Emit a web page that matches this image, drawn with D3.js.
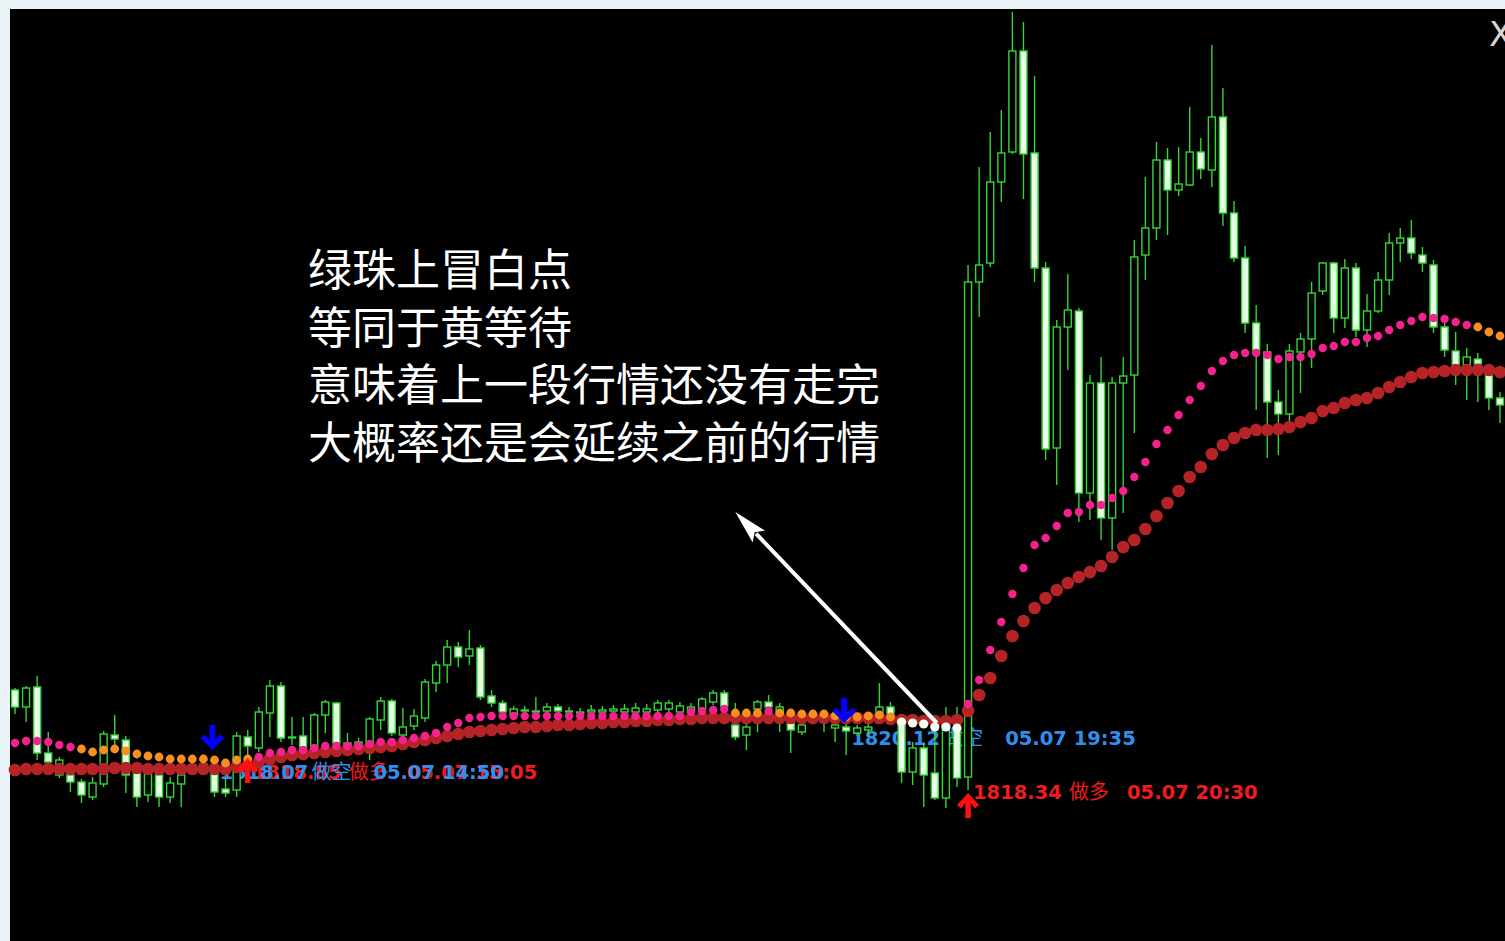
<!DOCTYPE html>
<html>
<head>
<meta charset="utf-8">
<script src="https://cdn.jsdelivr.net/npm/d3@7"></script>
<style>
html, body { margin: 0; padding: 0; background: #e9f3f8; overflow: hidden; }
</style>
</head>
<body>
<svg width="1505" height="941"></svg>
<script>
// 5 minute bars, 05.07 13:20 .. 05.08 00:30
var times = d3.timeMinute.every(5).range(new Date(2021, 4, 7, 13, 20), new Date(2021, 4, 8, 0, 35));

var open = [
1823.50,1822.65,1823.65,1820.35,1819.25,1819.25,1818.90,1818.15,1818.80,1821.25,
1821.00,1819.35,1818.25,1819.25,1818.15,1818.80,1819.60,1819.70,1819.40,1818.55,
1818.50,1821.15,1820.60,1822.35,1823.70,1821.10,1821.20,1820.65,1822.25,1822.85,
1820.85,1820.75,1820.60,1822.00,1822.95,1821.25,1821.70,1822.10,1823.85,1824.75,
1825.65,1825.20,1825.60,1823.20,1822.85,1822.25,1822.45,1822.40,1822.45,1822.65,
1822.40,1822.35,1822.40,1822.40,1822.45,1822.40,1822.40,1822.40,1822.50,1822.55,
1822.40,1822.40,1822.55,1822.90,1823.35,1821.75,1821.25,1822.55,1822.90,1822.40,
1822.25,1821.40,1822.10,1822.10,1821.60,1821.65,1821.35,1821.50,1822.25,1822.65,
1821.85,1819.40,1820.60,1819.35,1818.10,1821.65,1819.15,1843.90,1844.85,1848.90,
1850.40,1855.45,1850.35,1844.60,1835.60,1841.65,1842.45,1833.35,1838.85,1832.10,
1838.85,1839.25,1845.25,1846.60,1850.00,1848.50,1848.75,1850.40,1849.50,1852.15,
1847.35,1845.10,1841.85,1840.40,1837.90,1837.30,1840.40,1841.05,1843.45,1844.85,
1842.10,1844.60,1841.50,1842.45,1844.00,1845.85,1846.10,1845.25,1844.75,1841.65,
1840.45,1839.75,1840.05,1839.25,1838.10];

var high = [
1823.60,1823.70,1824.20,1821.40,1820.15,1819.40,1819.05,1819.15,1821.45,1822.25,
1821.20,1819.50,1819.50,1819.50,1819.15,1819.50,1820.00,1820.10,1819.75,1819.10,
1821.40,1821.50,1822.65,1824.00,1823.90,1822.15,1822.15,1822.35,1823.00,1822.90,
1821.35,1821.10,1822.15,1823.15,1823.05,1822.60,1822.55,1824.05,1824.95,1826.00,
1825.90,1826.50,1825.75,1823.50,1823.00,1822.70,1822.70,1823.15,1822.85,1822.80,
1822.65,1822.60,1822.75,1822.70,1822.75,1822.80,1822.85,1822.80,1823.00,1823.00,
1822.90,1822.85,1823.15,1823.50,1823.50,1822.85,1822.00,1823.00,1823.25,1822.85,
1822.40,1822.10,1822.40,1822.40,1822.25,1821.90,1821.75,1821.90,1823.85,1822.90,
1822.15,1820.90,1820.85,1821.65,1822.65,1822.65,1844.75,1849.65,1851.40,1852.50,
1857.40,1856.90,1854.20,1844.90,1842.00,1844.30,1842.60,1839.25,1840.15,1839.15,
1840.15,1846.00,1849.15,1850.90,1850.60,1850.65,1852.65,1851.10,1855.75,1853.60,
1847.95,1845.70,1842.75,1840.80,1838.50,1840.80,1841.35,1843.90,1844.90,1844.90,
1845.05,1844.85,1843.30,1844.40,1846.35,1846.60,1847.00,1845.65,1845.00,1841.90,
1841.40,1840.60,1840.35,1839.60,1838.40];

var low = [
1822.30,1821.90,1820.00,1819.60,1819.10,1818.40,1817.85,1818.00,1818.65,1820.75,
1818.35,1817.65,1817.90,1817.65,1817.85,1817.65,1819.25,1819.40,1818.15,1818.15,
1818.15,1819.50,1820.40,1821.15,1820.90,1820.75,1820.50,1820.50,1821.35,1820.70,
1820.50,1820.50,1820.00,1821.50,1821.20,1821.10,1821.50,1821.90,1823.40,1823.85,
1824.65,1824.75,1823.00,1822.65,1822.25,1822.10,1822.20,1822.20,1822.20,1822.20,
1822.15,1822.15,1822.20,1822.20,1822.20,1822.20,1822.20,1822.15,1822.30,1822.35,
1822.20,1822.20,1822.40,1822.75,1822.25,1821.00,1820.50,1821.40,1822.40,1821.40,
1820.35,1821.25,1821.90,1821.40,1820.90,1820.25,1821.20,1821.15,1822.00,1822.10,
1818.85,1818.75,1817.65,1818.00,1817.60,1818.65,1818.50,1842.15,1844.65,1847.90,
1850.30,1848.05,1843.90,1835.00,1833.75,1839.50,1831.90,1832.00,1831.00,1830.50,
1832.35,1836.35,1844.00,1846.00,1846.25,1848.20,1848.70,1849.05,1848.65,1846.70,
1844.90,1841.35,1837.50,1835.10,1835.25,1836.90,1838.35,1839.60,1843.25,1841.35,
1841.60,1841.15,1840.65,1842.35,1843.25,1844.90,1845.05,1844.40,1841.35,1840.15,
1838.75,1838.00,1837.90,1837.50,1836.85];

var close = [
1822.65,1823.60,1820.35,1819.90,1820.00,1818.90,1818.25,1818.85,1821.30,1821.05,
1819.25,1818.15,1819.35,1818.15,1818.85,1819.25,1819.75,1819.80,1818.40,1818.35,
1821.20,1820.70,1822.40,1823.70,1821.10,1821.15,1820.65,1822.25,1822.90,1820.85,
1820.70,1820.90,1822.05,1822.95,1821.35,1821.65,1822.20,1823.90,1824.75,1825.65,
1825.15,1825.55,1823.15,1822.85,1822.40,1822.55,1822.50,1822.45,1822.65,1822.45,
1822.45,1822.40,1822.50,1822.50,1822.55,1822.55,1822.60,1822.55,1822.85,1822.85,
1822.70,1822.65,1823.05,1823.35,1822.70,1821.15,1821.65,1822.90,1822.65,1822.65,
1821.50,1821.75,1822.20,1822.20,1821.75,1821.45,1821.60,1821.65,1822.65,1822.30,
1819.40,1820.60,1819.25,1818.10,1821.75,1819.10,1843.90,1844.75,1848.90,1850.35,
1855.45,1850.30,1844.60,1835.55,1841.65,1842.50,1833.35,1838.85,1832.10,1838.85,
1839.20,1845.15,1846.60,1850.00,1848.50,1848.80,1850.40,1849.55,1852.15,1847.35,
1845.10,1841.85,1840.50,1837.90,1837.30,1840.45,1841.05,1843.35,1844.85,1842.10,
1844.60,1841.50,1842.45,1844.00,1845.85,1846.10,1845.35,1844.85,1841.65,1840.50,
1839.75,1840.15,1839.80,1838.10,1837.75];

// slow line (big dark red dots)
var slow = [
1819.50,1819.55,1819.55,1819.55,1819.55,1819.55,1819.55,1819.55,1819.55,1819.60,
1819.60,1819.60,1819.55,1819.55,1819.55,1819.55,1819.55,1819.55,1819.55,1819.55,
1819.65,1819.70,1819.90,1820.05,1820.15,1820.25,1820.30,1820.35,1820.40,1820.45,
1820.50,1820.55,1820.60,1820.65,1820.70,1820.80,1820.90,1821.00,1821.10,1821.20,
1821.30,1821.40,1821.45,1821.50,1821.55,1821.60,1821.65,1821.65,1821.70,1821.75,
1821.75,1821.80,1821.85,1821.85,1821.90,1821.90,1821.95,1821.95,1822.00,1822.00,
1822.05,1822.05,1822.10,1822.10,1822.10,1822.10,1822.10,1822.10,1822.10,1822.10,
1822.10,1822.10,1822.10,1822.10,1822.10,1822.10,1822.10,1822.10,1822.10,1822.05,
1822.00,1822.00,1821.95,1821.95,1821.95,1822.00,1822.45,1823.25,1824.10,1825.20,
1826.20,1826.95,1827.60,1828.10,1828.50,1828.85,1829.15,1829.40,1829.70,1830.15,
1830.65,1831.00,1831.55,1832.20,1832.85,1833.45,1834.15,1834.65,1835.30,1835.75,
1836.10,1836.35,1836.50,1836.50,1836.55,1836.65,1836.90,1837.10,1837.45,1837.60,
1837.85,1838.00,1838.10,1838.35,1838.65,1838.90,1839.15,1839.35,1839.40,1839.45,
1839.50,1839.50,1839.50,1839.50,1839.40];

// fast line (small dots), coloured by state
var fast = [
1820.85,1820.95,1820.95,1820.90,1820.75,1820.65,1820.55,1820.40,1820.50,1820.55,
1820.45,1820.30,1820.20,1820.15,1820.05,1820.05,1820.05,1820.05,1820.00,1819.85,
1820.00,1820.05,1820.15,1820.35,1820.40,1820.50,1820.50,1820.60,1820.70,1820.70,
1820.70,1820.70,1820.80,1820.90,1820.90,1821.00,1821.10,1821.20,1821.35,1821.65,
1821.85,1822.10,1822.15,1822.20,1822.20,1822.20,1822.20,1822.20,1822.20,1822.20,
1822.20,1822.20,1822.20,1822.20,1822.20,1822.20,1822.20,1822.20,1822.20,1822.20,
1822.20,1822.40,1822.45,1822.50,1822.55,1822.35,1822.35,1822.35,1822.45,1822.35,
1822.35,1822.30,1822.30,1822.30,1822.20,1822.15,1822.15,1822.20,1822.25,1822.15,
1821.90,1821.85,1821.80,1821.65,1821.65,1821.60,1822.80,1824.00,1825.50,1826.90,
1828.30,1829.60,1830.75,1831.10,1831.70,1832.35,1832.40,1832.75,1832.75,1833.10,
1833.45,1834.15,1834.90,1835.80,1836.50,1837.25,1838.00,1838.70,1839.45,1839.95,
1840.25,1840.35,1840.35,1840.25,1840.05,1840.15,1840.15,1840.30,1840.60,1840.70,
1840.90,1840.90,1841.10,1841.20,1841.50,1841.75,1841.95,1842.15,1842.10,1842.05,
1841.90,1841.75,1841.65,1841.40,1841.20];
// p = pink (trend), o = orange (wait), w = white
var fastState = "pppppp" + "oooooooooooooooo" + "ppppppppppppppppppppppppppppppppppppppppppp" +
                "ooo" + "p" + "ooooooooooo" + "wwwwww" +
                "pppppppppppppppppppppppppppppppppppppppppppppp" + "ooo";

// signals
var sellIdx = [18, 75];
var sellTip = [1820.50, 1821.85];
var sellPrice = ["1818.07", "1820.12"];
var sellLabelAt = [1819.05, 1820.75];
var buyIdx = [21, 86];
var buyTip = [1820.10, 1818.35];
var buyPrice = ["1818.85", "1818.34"];
var buyLabelAt = [1819.05, 1818.05];

var noteLines = ["绿珠上冒白点", "等同于黄等待", "意味着上一段行情还没有走完", "大概率还是会延续之前的行情"];
var noteTip = {idx: 65, price: 1832.40};
var noteFrom = 83;

var svg = d3.select("svg");
var WIDTH = 1505, HEIGHT = 941;
var GREEN = "#33d633";
var n = open.length;

svg.append("rect")
    .attr("x", 10).attr("y", 9)
    .attr("width", WIDTH - 10).attr("height", HEIGHT - 9)
    .attr("fill", "#000");

var x = d3.scalePoint().domain(d3.range(n)).range([15, 1500]);
var y = d3.scaleLinear().domain([1811, 1858]).range([940, 0]);
var fmt = d3.timeFormat("%m.%d %H:%M");

// signal labels sit under the candles
var lab = svg.append("g").attr("class", "labels");
function label(idx, txt, at, col, cnText, cnOff) {
    var t = lab.append("text")
        .attr("y", y(at))
        .attr("fill", col)
        .style("font-family", "DejaVu Sans, sans-serif")
        .style("font-size", "19.5px")
        .style("font-weight", "bold");
    t.append("tspan").attr("x", x(idx) + 5).text(txt);
    t.append("tspan").attr("x", x(idx) + cnOff)
        .style("font-family", "Noto Sans CJK SC")
        .style("font-weight", "normal")
        .style("font-size", "20px")
        .text(cnText);
    t.append("tspan").attr("x", x(idx) + 159).text(fmt(times[idx]));
}
buyIdx.forEach(function(d, k) { label(d, buyPrice[k], buyLabelAt[k], "#ee1c1c", "做多", 101); });
sellIdx.forEach(function(d, k) { label(d, sellPrice[k], sellLabelAt[k], "#2f8ff0", "做空", 97); });

// candles
var c = svg.append("g").selectAll("g")
    .data(d3.range(n))
    .join("g");
c.append("line")
    .attr("x1", i => x(i)).attr("x2", i => x(i))
    .attr("y1", i => y(high[i])).attr("y2", i => y(low[i]))
    .attr("stroke", GREEN).attr("stroke-width", 1.4);
c.append("rect")
    .attr("x", i => x(i) - 3.5)
    .attr("width", 7)
    .attr("y", i => y(Math.max(open[i], close[i])))
    .attr("height", i => Math.max(1, Math.abs(y(open[i]) - y(close[i]))))
    .attr("fill", i => close[i] >= open[i] ? "#000" : "#e6ffe6")
    .attr("stroke", GREEN).attr("stroke-width", 1.4);

// slow dots
svg.append("g").selectAll("circle")
    .data(d3.range(n))
    .join("circle")
    .attr("cx", i => x(i))
    .attr("cy", i => y(slow[i]))
    .attr("r", 6.3)
    .attr("fill", "#b52326");

// fast dots on top
var stateCol = {p: "#f5218f", o: "#f7901e", w: "#f4fff4"};
var stateR = {p: 4.2, o: 4.4, w: 4.6};
svg.append("g").selectAll("circle")
    .data(d3.range(n))
    .join("circle")
    .attr("cx", i => x(i))
    .attr("cy", i => y(fast[i]))
    .attr("r", i => stateR[fastState[i]])
    .attr("fill", i => stateCol[fastState[i]]);

// arrows (tip at 0,0 pointing down)
var arrowPath = "M0,0 L-12,-12 L-7.5,-15.5 L-3,-10 L-3,-25 L3,-25 L3,-10 L7.5,-15.5 L12,-12 Z";
svg.append("g").selectAll("path")
    .data(sellIdx)
    .join("path")
    .attr("d", arrowPath)
    .attr("transform", (d, k) => "translate(" + (x(d) - 2) + "," + y(sellTip[k]) + ")")
    .attr("fill", "#0000ff");
svg.append("g").selectAll("path")
    .data(buyIdx)
    .join("path")
    .attr("d", arrowPath)
    .attr("transform", (d, k) => "translate(" + x(d) + "," + y(buyTip[k]) + ") scale(0.92,-1)")
    .attr("fill", "#ff1010");

// annotation
var note = svg.append("g");
note.selectAll("text")
    .data(noteLines)
    .join("text")
    .attr("x", 308)
    .attr("y", (d, i) => 286 + i * 57.5)
    .attr("fill", "#fff")
    .style("font-family", "Noto Sans CJK SC")
    .style("font-size", "44px")
    .text(d => d);

var tx = x(noteTip.idx), ty = y(noteTip.price);
var ex = x(noteFrom) + 2, ey = y(fast[noteFrom]) - 4;
var len = Math.hypot(tx - ex, ty - ey);
var ux = (tx - ex) / len, uy = (ty - ey) / len;
var HL = 34, HW = 8.5;
var bx = tx - ux * HL, by = ty - uy * HL;
note.append("line")
    .attr("x1", ex).attr("y1", ey)
    .attr("x2", bx + ux * 4).attr("y2", by + uy * 4)
    .attr("stroke", "#fff").attr("stroke-width", 4);
note.append("path")
    .attr("d", "M" + tx + "," + ty +
        "L" + (bx - uy * HW) + "," + (by + ux * HW) +
        "L" + (bx + ux * 6) + "," + (by + uy * 6) +
        "L" + (bx + uy * HW) + "," + (by - ux * HW) + "Z")
    .attr("fill", "#fff");

// close mark, cut by the right edge as in the screenshot
svg.append("text")
    .attr("x", 1489).attr("y", 46)
    .attr("fill", "#d6d6d6")
    .style("font-family", "DejaVu Sans")
    .style("font-size", "34px")
    .text("X");
</script>
</body>
</html>
